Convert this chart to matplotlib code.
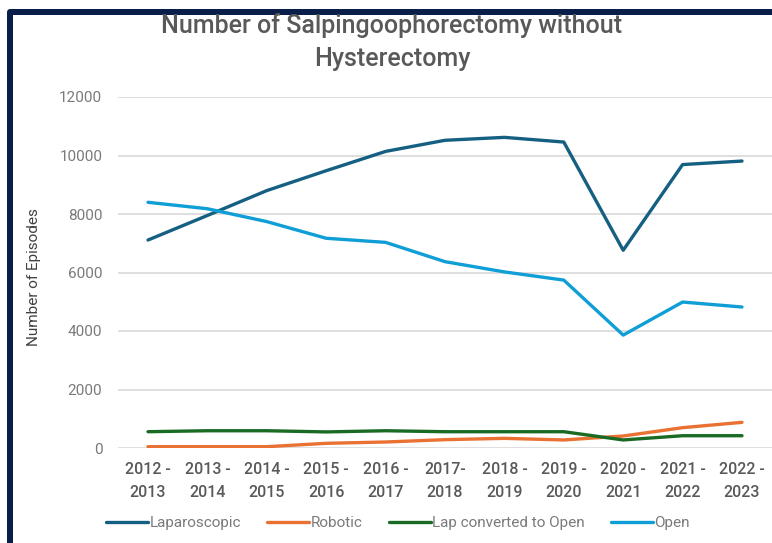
import matplotlib
matplotlib.use("Agg")
import matplotlib.pyplot as plt
from matplotlib.lines import Line2D

plt.rcParams['font.family'] = ['Roboto', 'DejaVu Sans']

years = ["2012 -\n2013", "2013 -\n2014", "2014 -\n2015", "2015 -\n2016", "2016 -\n2017",
         "2017-\n2018", "2018 -\n2019", "2019 -\n2020", "2020 -\n2021", "2021 -\n2022",
         "2022 -\n2023"]
laparoscopic = [7110, 7950, 8800, 9480, 10140, 10520, 10620, 10460, 6760, 9690, 9810]
robotic = [45, 45, 45, 160, 205, 285, 330, 275, 410, 695, 877]
lap_to_open = [557, 590, 590, 550, 590, 557, 557, 557, 275, 420, 420]
open_ = [8400, 8180, 7740, 7170, 7030, 6370, 6020, 5740, 3860, 4990, 4820]

series = [
    ("Laparoscopic", laparoscopic, "#156082"),
    ("Robotic", robotic, "#E97132"),
    ("Lap converted to Open", lap_to_open, "#196B24"),
    ("Open", open_, "#0F9ED5"),
]

W, H = 772, 543
fig = plt.figure(figsize=(W / 100, H / 100), dpi=100)
ax = fig.add_axes([118.3 / W, (H - 448) / H, 653.4 / W, 351 / H])

x = list(range(len(years)))
handles = []
for name, vals, col in series:
    ln, = ax.plot(x, vals, color=col, lw=2.4, solid_capstyle='round',
                  solid_joinstyle='round', label=name, zorder=3)
    handles.append(ln)

ax.set_xlim(-0.5, len(years) - 0.5)
ax.set_ylim(0, 12000)
ax.set_yticks(range(0, 12001, 2000))
ax.set_xticks(x)
ax.set_xticklabels(years, fontsize=11.5, color="#595959", linespacing=1.65,
                   fontweight='medium')
ax.set_yticklabels([str(v) for v in range(0, 12001, 2000)], fontsize=11,
                   color="#7a7a7a")
ax.tick_params(axis='y', length=0, pad=11.5)
ax.tick_params(axis='x', length=0, pad=10)
ax.grid(axis='y', color="#d9d9d9", lw=1.2)
ax.set_axisbelow(True)
for s in ax.spines.values():
    s.set_visible(False)

ax.set_ylabel("Number of Episodes", fontsize=11, color="#404040")
ax.yaxis.set_label_coords(-(118.3 - 40.5) / 653.4, (448 - 277) / 351)

fig.text(392 / W, 1 - 42 / H, "Number of Salpingoophorectomy without\nHysterectomy",
         ha='center', va='center', fontsize=18, color="#595959", linespacing=1.5,
         fontweight='medium')

fig.legend(handles=handles, loc='center', bbox_to_anchor=(398 / W, 1 - 523 / H),
           ncol=4, frameon=False, fontsize=11, handlelength=2.75, handletextpad=0.1,
           columnspacing=1.7, labelcolor="#7a7a7a")

# dark frame on the top and left edges
frame = Line2D([9.7, 9.7, W + 10], [-10, H - 12.3, H - 12.3], color="#0a1e4a",
               lw=6 * 0.72, solid_joinstyle='round', transform=None)
fig.add_artist(frame)

fig.savefig("out.png", dpi=100)
